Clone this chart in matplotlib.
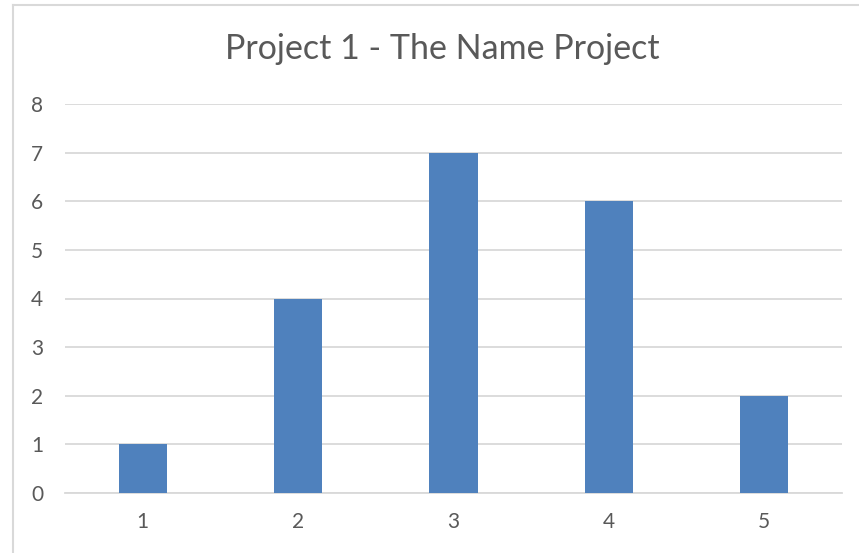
import matplotlib
matplotlib.use("Agg")
from matplotlib import pyplot as plt
from matplotlib.lines import Line2D

categories = ["1", "2", "3", "4", "5"]
values = [1, 4, 7, 6, 2]
y_ticks = [0, 1, 2, 3, 4, 5, 6, 7, 8]

bar_color = "#4F81BD"
grid_color = "#D9D9D9"
text_color = "#595959"

plt.rcParams["font.family"] = ["Lato", "DejaVu Sans"]

W, H = 859, 553
fig = plt.figure(figsize=(W / 100, H / 100), dpi=100)
ax = fig.add_axes([65 / W, 1 - 493 / H, (842 - 65) / W, (493 - 104) / H])

x = range(len(categories))
ax.bar(x, values, width=0.31, color=bar_color, zorder=3)

ax.set_xlim(-0.5, len(categories) - 0.5)
ax.set_ylim(0, 8)
ax.set_yticks(y_ticks)
ax.set_xticks(list(x))
ax.set_xticklabels(categories)
ax.yaxis.grid(True, color=grid_color, linewidth=1.3, zorder=0)
ax.tick_params(axis="both", length=0, labelsize=15, colors=text_color)
ax.tick_params(axis="y", pad=20)
ax.tick_params(axis="x", pad=14)
for lbl in ax.get_yticklabels():
    lbl.set_horizontalalignment("center")
for side in ["top", "right", "left"]:
    ax.spines[side].set_visible(False)
ax.spines["bottom"].set_color(grid_color)
ax.spines["bottom"].set_linewidth(1.3)

fig.text(442 / W, 1 - 49 / H, "Project 1 - The Name Project",
         ha="center", va="center", fontsize=24.5, color=text_color)

# chart area border (only left and top edges fall inside the image)
fig.add_artist(Line2D([13 / W, 13 / W], [0, 1 - 5 / H], color=grid_color, linewidth=1.5))
fig.add_artist(Line2D([13 / W, 1], [1 - 5 / H, 1 - 5 / H], color=grid_color, linewidth=1.5))

fig.savefig("out.png", dpi=100)
